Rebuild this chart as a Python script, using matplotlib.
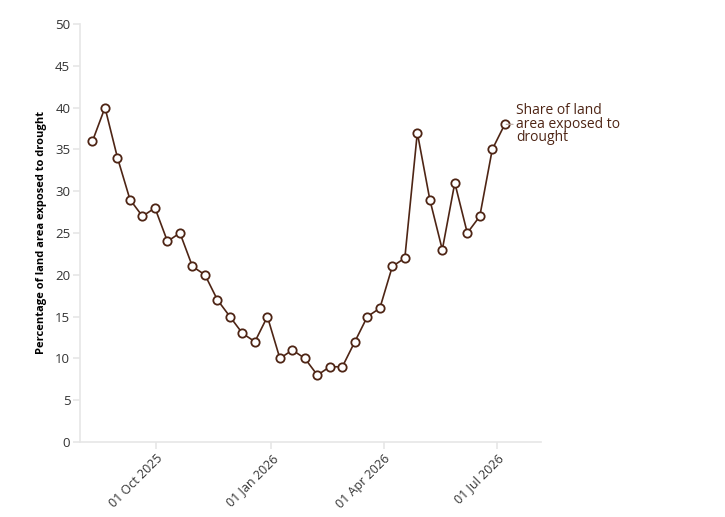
import datetime as dt

import matplotlib.pyplot as plt
import matplotlib.dates as mdates

plt.rcParams["font.family"] = ["Open Sans", "DejaVu Sans"]

dates = [
    "2025-08-11", "2025-08-21", "2025-08-31", "2025-09-10", "2025-09-20",
    "2025-09-30", "2025-10-10", "2025-10-20", "2025-10-30", "2025-11-09",
    "2025-11-19", "2025-11-29", "2025-12-09", "2025-12-19", "2025-12-29",
    "2026-01-08", "2026-01-18", "2026-01-28", "2026-02-07", "2026-02-17",
    "2026-02-27", "2026-03-09", "2026-03-19", "2026-03-29", "2026-04-08",
    "2026-04-18", "2026-04-28", "2026-05-08", "2026-05-18", "2026-05-28",
    "2026-06-07", "2026-06-17", "2026-06-27", "2026-07-07",
]
share = [36, 40, 34, 29, 27, 28, 24, 25, 21, 20, 17, 15, 13, 12, 15, 10, 11,
         10, 8, 9, 9, 12, 15, 16, 21, 22, 37, 29, 23, 31, 25, 27, 35, 38]
series_label = "Share of land\narea exposed to\ndrought"
tick_dates = ["2025-10-01", "2026-01-01", "2026-04-01", "2026-07-01"]

x = [dt.datetime.strptime(d, "%Y-%m-%d") for d in dates]
xt = [dt.datetime.strptime(d, "%Y-%m-%d") for d in tick_dates]

brown = "#4e2515"
grid = "#e6e6e6"
text_col = "#333333"

fig = plt.figure(figsize=(7.25, 5.17), dpi=100)
ax = fig.add_axes([80 / 725, 1 - 442 / 517, 461 / 725, 418 / 517])

ax.plot(x, share, color=brown, lw=1.2, marker="o", ms=6,
        mfc="white", mec=brown, mew=1.3, zorder=3, clip_on=False)

ax.set_xlim(dt.datetime(2025, 8, 1), dt.datetime(2026, 8, 5))
ax.set_ylim(0, 50)
ax.set_yticks(range(0, 51, 5))
ax.set_xticks(xt)
ax.xaxis.set_major_formatter(mdates.DateFormatter("%d %b %Y"))

for side in ["top", "right"]:
    ax.spines[side].set_visible(False)
for side in ["left", "bottom"]:
    ax.spines[side].set_color(grid)
    ax.spines[side].set_linewidth(1.2)

ax.tick_params(axis="both", colors=grid, length=5, width=1.2)
ax.tick_params(axis="y", labelcolor=text_col, labelsize=9.5, pad=2)
ax.tick_params(axis="x", labelcolor=text_col, labelsize=9, pad=2)
for lab in ax.get_xticklabels():
    lab.set_rotation(45)
    lab.set_ha("right")
    lab.set_rotation_mode("anchor")

ax.set_ylabel("Percentage of land area exposed to drought", fontsize=8,
              fontweight="bold", color="black", labelpad=6)

ax.annotate(series_label, xy=(x[-1], share[-1]), xytext=(8, 0),
            textcoords="offset points", va="center", ha="left",
            fontsize=10, color=brown, linespacing=0.85,
            arrowprops=dict(arrowstyle="-", color="#b8a59c", lw=0.8,
                            shrinkA=0, shrinkB=1))

fig.savefig("out.png", dpi=100)
